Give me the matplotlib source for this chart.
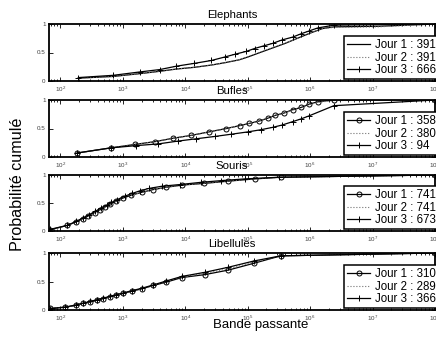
import numpy as np
import matplotlib
matplotlib.use("Agg")
import matplotlib.pyplot as plt
from matplotlib.ticker import LogLocator, NullFormatter, FixedLocator

plt.rcParams['font.family'] = ['Liberation Sans', 'DejaVu Sans']
plt.rcParams['mathtext.fontset'] = 'custom'
plt.rcParams['mathtext.rm'] = 'Liberation Sans'

# ---- Elephants ----
eleph_j1_x = [1.95e2, 7.08e2, 1.91e3, 3.89e3, 7.24e3, 1.41e4, 2.63e4, 4.27e4, 7.24e4,
              1.0e5, 1.58e5, 2.51e5, 3.98e5, 6.31e5, 1.0e6, 1.58e6, 2.4e6, 1.26e7, 1.0e8]
eleph_j1_y = [0.05, 0.08, 0.13, 0.17, 0.21, 0.24, 0.28, 0.32, 0.37,
              0.42, 0.50, 0.58, 0.66, 0.75, 0.84, 0.92, 0.95, 0.96, 1.0]
eleph_j2_x = eleph_j1_x
eleph_j2_y = [0.05, 0.08, 0.13, 0.17, 0.21, 0.24, 0.28, 0.32, 0.37,
              0.42, 0.50, 0.58, 0.66, 0.75, 0.84, 0.92, 0.94, 0.95, 1.0]
eleph_j3_x = [1.95e2, 7.08e2, 1.91e3, 3.89e3, 7.24e3, 1.41e4, 2.63e4, 4.27e4, 6.31e4, 9.55e4,
              1.29e5, 1.86e5, 2.51e5, 3.55e5, 5.25e5, 7.24e5, 9.77e5, 1.32e6, 2.4e6, 1.0e8]
eleph_j3_y = [0.06, 0.10, 0.16, 0.20, 0.26, 0.31, 0.36, 0.42, 0.47, 0.52,
              0.57, 0.62, 0.66, 0.72, 0.77, 0.83, 0.88, 0.93, 0.98, 1.0]
eleph_counts = [391, 391, 666]

# ---- Bufles ----
buf_j1_x = [1.86e2, 6.46e2, 1.55e3, 3.31e3, 6.46e3, 1.26e4, 2.4e4, 4.57e4, 7.41e4, 1.07e5,
            1.51e5, 2.09e5, 2.75e5, 3.8e5, 5.25e5, 7.24e5, 9.77e5, 1.35e6, 2.4e6, 1.0e8]
buf_j1_y = [0.07, 0.16, 0.22, 0.27, 0.33, 0.38, 0.44, 0.50, 0.55, 0.59,
            0.63, 0.68, 0.73, 0.77, 0.83, 0.87, 0.93, 0.97, 1.0, 1.0]
buf_j2_x = buf_j1_x
buf_j2_y = [0.07, 0.16, 0.22, 0.27, 0.33, 0.38, 0.44, 0.50, 0.55, 0.59,
            0.63, 0.68, 0.73, 0.77, 0.82, 0.87, 0.92, 0.96, 0.99, 1.0]
buf_j3_x = [1.86e2, 6.46e2, 1.66e3, 3.72e3, 7.76e3, 1.51e4, 2.95e4, 5.5e4, 1.0e5,
            1.66e5, 2.51e5, 3.55e5, 5.25e5, 7.24e5, 9.55e5, 2.4e6, 1.0e8]
buf_j3_y = [0.07, 0.16, 0.20, 0.23, 0.28, 0.32, 0.36, 0.40, 0.44,
            0.48, 0.52, 0.56, 0.62, 0.67, 0.72, 0.90, 1.0]
buf_counts = [358, 380, 94]

# ---- Souris ----
sou_j1_x = [6.9e1, 1.29e2, 1.78e2, 2.29e2, 2.82e2, 3.55e2, 4.37e2, 5.25e2, 6.31e2, 7.76e2,
            1.02e3, 1.38e3, 2.0e3, 3.09e3, 4.9e3, 8.91e3, 2.0e4, 4.9e4, 1.29e5, 3.39e5, 1.0e8]
sou_j1_y = [0.02, 0.10, 0.16, 0.22, 0.27, 0.33, 0.38, 0.43, 0.48, 0.53,
            0.59, 0.64, 0.69, 0.74, 0.78, 0.82, 0.85, 0.89, 0.93, 0.96, 1.0]
sou_j2_x = sou_j1_x
sou_j2_y = sou_j1_y
sou_j3_x = [6.9e1, 1.29e2, 1.78e2, 2.29e2, 2.88e2, 3.63e2, 4.47e2, 5.5e2, 6.61e2, 8.13e2,
            1.07e3, 1.41e3, 1.91e3, 2.63e3, 4.27e3, 8.32e3, 1.82e4, 3.8e4, 8.91e4, 3.16e5, 1.0e8]
sou_j3_y = [0.03, 0.10, 0.17, 0.23, 0.29, 0.35, 0.41, 0.46, 0.51, 0.56,
            0.62, 0.67, 0.72, 0.76, 0.80, 0.83, 0.87, 0.90, 0.93, 0.96, 1.0]
sou_counts = [741, 741, 673]

# ---- Libellules ----
lib_j1_x = [6.8e1, 1.2e2, 1.78e2, 2.34e2, 3.02e2, 3.85e2, 4.9e2, 6.31e2, 7.94e2, 1.02e3,
            1.41e3, 2.0e3, 3.09e3, 5.01e3, 8.91e3, 2.04e4, 4.9e4, 1.26e5, 3.39e5, 1.0e8]
lib_j1_y = [0.03, 0.05, 0.08, 0.12, 0.14, 0.17, 0.20, 0.23, 0.26, 0.29,
            0.33, 0.37, 0.43, 0.49, 0.57, 0.62, 0.70, 0.82, 0.95, 1.0]
lib_j2_x = lib_j1_x
lib_j2_y = [0.03, 0.05, 0.08, 0.12, 0.14, 0.17, 0.20, 0.23, 0.26, 0.29,
            0.33, 0.37, 0.43, 0.50, 0.58, 0.64, 0.72, 0.84, 0.95, 1.0]
lib_j3_x = lib_j1_x
lib_j3_y = [0.02, 0.05, 0.09, 0.12, 0.15, 0.18, 0.21, 0.24, 0.27, 0.30,
            0.34, 0.38, 0.44, 0.51, 0.59, 0.66, 0.75, 0.86, 0.95, 1.0]
lib_counts = [310, 289, 366]

titles = ["Elephants", "Bufles", "Souris", "Libellules"]
panels = [
    (eleph_j1_x, eleph_j1_y, eleph_j2_x, eleph_j2_y, eleph_j3_x, eleph_j3_y, eleph_counts, None),
    (buf_j1_x, buf_j1_y, buf_j2_x, buf_j2_y, buf_j3_x, buf_j3_y, buf_counts, 'o'),
    (sou_j1_x, sou_j1_y, sou_j2_x, sou_j2_y, sou_j3_x, sou_j3_y, sou_counts, 'o'),
    (lib_j1_x, lib_j1_y, lib_j2_x, lib_j2_y, lib_j3_x, lib_j3_y, lib_counts, 'o'),
]

W, H = 436, 337
fig = plt.figure(figsize=(W / 100, H / 100), dpi=100)

ax_left, ax_right = 49, 435
ax_tops = [24, 100, 175, 253]
ax_bots = [81, 157, 231, 310]
title_cx = 232

for i, (x1, y1, x2, y2, x3, y3, counts, m1) in enumerate(panels):
    top, bot = ax_tops[i], ax_bots[i]
    ax = fig.add_axes([ax_left / W, 1 - bot / H, (ax_right - ax_left) / W, (bot - top) / H])
    ax.set_xscale('log')
    ax.plot(x1, y1, color='black', lw=0.9, marker=m1, ms=3.6, mfc='none', mew=0.7,
            label=f"Jour 1 : {counts[0]}")
    ax.plot(x2, y2, color='0.45', lw=0.8, ls=':', label=f"Jour 2 : {counts[1]}")
    ax.plot(x3, y3, color='black', lw=0.9, marker='+', ms=4.5, mew=0.7,
            label=f"Jour 3 : {counts[2]}")
    ax.set_xlim(66, 1e8)
    ax.set_ylim(0, 1)
    ax.xaxis.set_major_locator(LogLocator(base=10, numticks=20))
    ax.xaxis.set_minor_locator(LogLocator(base=10, subs=np.arange(2, 10), numticks=20))
    ax.xaxis.set_minor_formatter(NullFormatter())
    ax.yaxis.set_major_locator(FixedLocator([0, 0.5, 1]))
    ax.set_yticklabels(['0', '0.5', '1'])
    ax.tick_params(which='both', direction='in', top=True, right=True,
                   labelsize=4.5, labelcolor='0.25', width=0.6)
    ax.tick_params(which='major', length=3, pad=2.5)
    ax.tick_params(which='minor', length=1.6)
    for s in ax.spines.values():
        s.set_linewidth(1.3)
    ax.set_title(titles[i], fontsize=8.2, pad=4.5,
                 x=(title_cx - ax_left) / (ax_right - ax_left))
    leg_left = (344 - ax_left) / (ax_right - ax_left)
    leg = ax.legend(loc='lower left', bbox_to_anchor=(leg_left, 0.035), borderaxespad=0,
                    fontsize=8.3, frameon=True, fancybox=False, edgecolor='black',
                    framealpha=1, numpoints=1, handlelength=2.0, handletextpad=0.45,
                    labelspacing=0.02, borderpad=0.28)
    leg.get_frame().set_linewidth(1.1)

fig.text(17 / W, 1 - 184 / H, "Probabilité cumulé", rotation=90, fontsize=11.6,
         ha='center', va='center')
fig.text(261 / W, 1 - 325 / H, "Bande passante", fontsize=9.5, ha='center', va='center')

fig.savefig("out.png", dpi=100)
